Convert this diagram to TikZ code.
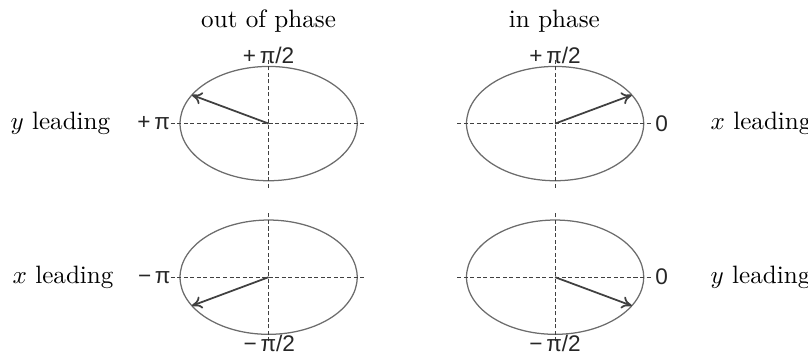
\documentclass[tikz,border=0pt]{standalone}
\usepackage{fontspec}
\usepackage{tikz}
\usetikzlibrary{arrows.meta}
\newfontfamily\anglefont{Liberation Sans}

\begin{document}
\begin{tikzpicture}[x=1cm,y=1cm,>={To[length=4pt,width=5pt]},
  ring/.style={gray!85!black,line width=0.5pt},
  axisline/.style={dash pattern=on 1.6pt off 1pt,black!75,line width=0.45pt},
  phasor/.style={->,black!75,line width=0.7pt},
  anglelabel/.style={font=\anglefont\fontsize{9}{10}\selectfont,text=black!85},
  rowlabel/.style={anchor=west,inner sep=0pt}]
  \useasboundingbox (0,0) rectangle (11.31,4.94);
  % the four phase circles with their axes and phasors
  \foreach \name/\x/\y/\ang in {tl/3.76/3.21/150,tr/7.77/3.21/30,bl/3.76/1.06/210,br/7.77/1.06/330} {
    \coordinate (\name) at (\x,\y);
    \draw[ring] (\name) ellipse [x radius=1.24,y radius=0.80];
    \draw[axisline] ([xshift=-1.37cm]\name) -- ([xshift=1.37cm]\name);
    \draw[axisline] ([yshift=-0.9cm]\name) -- ([yshift=0.9cm]\name);
    \path (\name) ++(\ang:1.24 and 0.80) coordinate (\name-tip);
    \draw[phasor] (\name) -- (\name-tip);
  }
  % column titles
  \node (outphase) at (3.76,4.64) {out of phase};
  \node (inphase) at (7.76,4.64) {in phase};
  % angle marks on the axes
  \node[anglelabel] (tl-top) at (3.76,4.17) {+\,π/2};
  \node[anglelabel] (tl-left) at (2.15,3.21) {+\,π};
  \node[anglelabel] (tr-top) at (7.77,4.17) {+\,π/2};
  \node[anglelabel] (tr-right) at (9.26,3.21) {0};
  \node[anglelabel] (bl-left) at (2.16,1.06) {−\,π};
  \node[anglelabel] (bl-bottom) at (3.77,0.13) {−\,π/2};
  \node[anglelabel] (br-right) at (9.26,1.06) {0};
  \node[anglelabel] (br-bottom) at (7.77,0.13) {−\,π/2};
  % which component is leading
  \node[rowlabel] (tl-lead) at (0.14,3.21) {$y$ leading};
  \node[rowlabel] (bl-lead) at (0.17,1.06) {$x$ leading};
  \node[rowlabel] (tr-lead) at (9.94,3.21) {$x$ leading};
  \node[rowlabel] (br-lead) at (9.94,1.06) {$y$ leading};
\end{tikzpicture}
\end{document}
